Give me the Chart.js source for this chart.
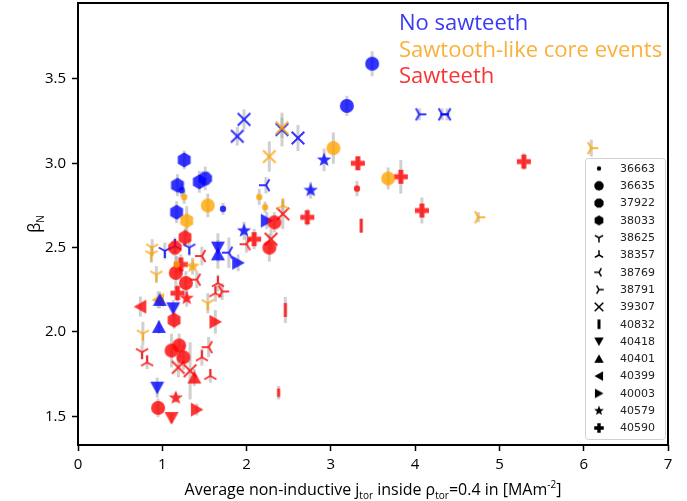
<!DOCTYPE html>
<html>
<head>
<meta charset="utf-8">
<script src="https://cdn.jsdelivr.net/npm/chart.js@4.4.0/dist/chart.umd.min.js"></script>
<style>
  html, body { margin: 0; padding: 0; background: #fff; }
</style>
</head>
<body>
<canvas id="myChart" width="687" height="501"></canvas>
<script>

// category of each point: 0 = no sawteeth, 1 = sawtooth-like core events, 2 = sawteeth
const catNames = ["No sawteeth", "Sawtooth-like core events", "Sawteeth"];
const catMarkerColors = ["rgba(0,0,255,0.8)", "rgba(255,165,0,0.8)", "rgba(255,0,0,0.8)"];
const catTextColors = ["#3a3af4", "#fbb03b", "#f93434"];

const xTicks = [0, 1, 2, 3, 4, 5, 6, 7];
const yTicks = [1.5, 2.0, 2.5, 3.0, 3.5];

// per shot: x = <j_tor> [MA/m2], y = beta_N, cat = category, err = beta_N error
const x36663 = [1.23, 1.26, 1.72, 2.15, 2.22, 3.31, 1.17];
const y36663 = [2.84, 2.80, 2.73, 2.80, 2.74, 2.85, 2.40];
const cat36663 = [0, 1, 0, 1, 1, 2, 1];
const err36663 = [0.04, 0.04, 0.035, 0.048, 0.033, 0.045, 0.05];

const x36635 = [3.49, 3.19, 3.03, 3.68, 1.54, 2.33, 2.27, 1.28, 1.11, 1.20, 1.25, 0.95, 1.16];
const y36635 = [3.59, 3.34, 3.09, 2.91, 2.75, 2.65, 2.50, 2.29, 1.89, 1.92, 1.85, 1.55, 2.35];
const cat36635 = [0, 0, 1, 1, 1, 2, 2, 2, 2, 2, 2, 2, 2];
const err36635 = [0.074, 0.06, 0.093, 0.065, 0.07, 0.06, 0.083, 0.07, 0.1, 0.07, 0.075, 0.055, 0.1];

const x37922 = [1.51, 1.15];
const y37922 = [2.91, 2.50];
const cat37922 = [0, 2];
const err37922 = [0.07, 0.05];

const x38033 = [1.26, 1.18, 1.17, 1.44, 1.29, 1.27, 1.14];
const y38033 = [3.02, 2.87, 2.71, 2.89, 2.66, 2.56, 2.07];
const cat38033 = [0, 0, 0, 0, 1, 2, 2];
const err38033 = [0.055, 0.065, 0.065, 0.065, 0.085, 0.055, 0.05];

const x38625 = [0.88, 0.87, 0.93, 1.54, 0.77, 1.03, 1.32, 0.76];
const y38625 = [2.50, 2.46, 2.34, 2.17, 1.99, 2.48, 2.50, 1.88];
const cat38625 = [1, 1, 1, 1, 1, 0, 0, 2];
const err38625 = [0.05, 0.05, 0.05, 0.06, 0.07, 0.05, 0.05, 0.04];

const x38357 = [1.15, 2.43, 0.82, 1.47, 1.57, 1.66, 1.63];
const y38357 = [2.51, 2.75, 1.82, 1.85, 1.74, 2.29, 2.23];
const cat38357 = [0, 1, 2, 2, 2, 2, 2];
const err38357 = [0.05, 0.03, 0.04, 0.05, 0.04, 0.05, 0.05];

const x38769 = [2.23, 1.79, 1.47, 1.41, 2.00, 1.55, 4.38];
const y38769 = [2.87, 2.47, 2.45, 2.31, 2.52, 1.91, 3.29];
const cat38769 = [0, 0, 2, 2, 2, 2, 0];
const err38769 = [0.048, 0.09, 0.055, 0.05, 0.05, 0.06, 0.035];

const x38791 = [4.75, 6.09, 4.05, 4.32, 1.71];
const y38791 = [2.68, 3.09, 3.29, 3.29, 2.24];
const cat38791 = [1, 1, 0, 0, 2];
const err38791 = [0.03, 0.05, 0.035, 0.035, 0.05];

const x39307 = [1.97, 1.89, 2.42, 2.61, 2.27, 2.42, 2.43, 2.29, 1.19, 1.33];
const y39307 = [3.26, 3.16, 3.20, 3.15, 3.04, 3.21, 2.70, 2.55, 1.79, 1.77];
const cat39307 = [0, 0, 0, 0, 1, 1, 2, 2, 2, 2];
const err39307 = [0.06, 0.055, 0.1, 0.077, 0.09, 0.06, 0.09, 0.06, 0.06, 0.17];

const x40832 = [3.36, 2.46, 2.38];
const y40832 = [2.63, 2.13, 1.64];
const cat40832 = [2, 2, 2];
const err40832 = [0.04, 0.077, 0.04];
const size40832 = [1, 1, 0.6];

const x40418 = [1.66, 1.13, 0.94, 1.11];
const y40418 = [2.50, 2.14, 1.67, 1.49];
const cat40418 = [0, 0, 0, 2];
const err40418 = [0.085, 0.05, 0.06, 0.03];

const x40401 = [1.66, 0.97, 0.96, 1.38];
const y40401 = [2.46, 2.19, 2.03, 1.73];
const cat40401 = [0, 0, 0, 2];
const err40401 = [0.085, 0.05, 0.04, 0.05];

const x40399 = [0.74, 0.95];
const y40399 = [2.15, 2.19];
const cat40399 = [2, 1];
const err40399 = [0.06, 0.05];

const x40003 = [2.24, 1.90, 1.63, 1.41];
const y40003 = [2.66, 2.41, 2.06, 1.54];
const cat40003 = [0, 0, 2, 2];
const err40003 = [0.05, 0.05, 0.07, 0.035];

const x40579 = [2.92, 2.76, 1.97, 1.36, 1.29, 1.16];
const y40579 = [3.02, 2.84, 2.60, 2.39, 2.20, 1.61];
const cat40579 = [0, 0, 0, 1, 2, 2];
const err40579 = [0.067, 0.05, 0.053, 0.05, 0.05, 0.03];

const x40590 = [3.32, 3.83, 2.72, 2.09, 4.08, 5.29, 1.22, 1.18];
const y40590 = [3.00, 2.92, 2.68, 2.55, 2.72, 3.01, 2.40, 2.23];
const cat40590 = [2, 2, 2, 2, 2, 2, 2, 2];
const err40590 = [0.04, 0.1, 0.05, 0.06, 0.077, 0.05, 0.06, 0.05];

const shots = [
  { id: "36663", marker: ".", x: x36663, y: y36663, cat: cat36663, err: err36663 },
  { id: "36635", marker: "o", x: x36635, y: y36635, cat: cat36635, err: err36635 },
  { id: "37922", marker: "8", x: x37922, y: y37922, cat: cat37922, err: err37922 },
  { id: "38033", marker: "h", x: x38033, y: y38033, cat: cat38033, err: err38033 },
  { id: "38625", marker: "1", x: x38625, y: y38625, cat: cat38625, err: err38625 },
  { id: "38357", marker: "2", x: x38357, y: y38357, cat: cat38357, err: err38357 },
  { id: "38769", marker: "3", x: x38769, y: y38769, cat: cat38769, err: err38769 },
  { id: "38791", marker: "4", x: x38791, y: y38791, cat: cat38791, err: err38791 },
  { id: "39307", marker: "x", x: x39307, y: y39307, cat: cat39307, err: err39307 },
  { id: "40832", marker: "|", x: x40832, y: y40832, cat: cat40832, err: err40832, size: size40832 },
  { id: "40418", marker: "v", x: x40418, y: y40418, cat: cat40418, err: err40418 },
  { id: "40401", marker: "^", x: x40401, y: y40401, cat: cat40401, err: err40401 },
  { id: "40399", marker: "<", x: x40399, y: y40399, cat: cat40399, err: err40399 },
  { id: "40003", marker: ">", x: x40003, y: y40003, cat: cat40003, err: err40003 },
  { id: "40579", marker: "*", x: x40579, y: y40579, cat: cat40579, err: err40579 },
  { id: "40590", marker: "P", x: x40590, y: y40590, cat: cat40590, err: err40590 }
];

// marker sprites, matplotlib-like shapes drawn once into small canvases
const markerCache = {};
function markerImage(m, color, k) {
  const key = m + "|" + color + "|" + k;
  if (markerCache[key]) return markerCache[key];
  const r = 7 * k;
  const size = 2 * Math.ceil(r + 3);
  const cv = document.createElement("canvas");
  cv.width = size;
  cv.height = size;
  const g = cv.getContext("2d");
  g.translate(size / 2, size / 2);
  g.fillStyle = color;
  g.strokeStyle = color;
  g.lineWidth = k < 1 ? 1.5 : 2;
  const D = Math.PI / 180;
  const poly = pts => {
    g.beginPath();
    pts.forEach((p, i) => i ? g.lineTo(p[0], p[1]) : g.moveTo(p[0], p[1]));
    g.closePath();
    g.fill();
  };
  const ngon = (n, rr, a0) => {
    const pts = [];
    for (let i = 0; i < n; i++) {
      const a = a0 + i * 2 * Math.PI / n;
      pts.push([rr * Math.cos(a), rr * Math.sin(a)]);
    }
    poly(pts);
  };
  const arms = angles => {
    g.beginPath();
    angles.forEach(a => { g.moveTo(0, 0); g.lineTo(r * Math.cos(a * D), r * Math.sin(a * D)); });
    g.stroke();
  };
  switch (m) {
    case ".": g.beginPath(); g.arc(0, 0, 3.2 * k, 0, 2 * Math.PI); g.fill(); break;
    case "o": g.beginPath(); g.arc(0, 0, r, 0, 2 * Math.PI); g.fill(); break;
    case "8": ngon(8, r * 1.04, 22.5 * D); break;
    case "h": ngon(6, r * 1.06, -90 * D); break;
    case "1": arms([90, 210, 330]); break;
    case "2": arms([270, 30, 150]); break;
    case "3": arms([180, 300, 60]); break;
    case "4": arms([0, 120, 240]); break;
    case "x": {
      const q = r * 0.9;
      g.beginPath();
      g.moveTo(-q, -q); g.lineTo(q, q);
      g.moveTo(q, -q); g.lineTo(-q, q);
      g.stroke();
      break;
    }
    case "|": g.fillRect(-1.5, -r, 3, 2 * r); break;
    case "v": poly([[-r, -r * 0.85], [r, -r * 0.85], [0, r * 0.95]]); break;
    case "^": poly([[-r, r * 0.85], [r, r * 0.85], [0, -r * 0.95]]); break;
    case "<": poly([[r * 0.85, -r], [r * 0.85, r], [-r * 0.95, 0]]); break;
    case ">": poly([[-r * 0.85, -r], [-r * 0.85, r], [r * 0.95, 0]]); break;
    case "*": {
      const pts = [];
      for (let i = 0; i < 10; i++) {
        const rr = i % 2 ? r * 0.45 : r * 1.08;
        const a = -90 * D + i * 36 * D;
        pts.push([rr * Math.cos(a), rr * Math.sin(a)]);
      }
      poly(pts);
      break;
    }
    case "P": {
      const t = r * 0.36;
      poly([[-t, -r], [t, -r], [t, -t], [r, -t], [r, t], [t, t], [t, r], [-t, r], [-t, t], [-r, t], [-r, -t], [-t, -t]]);
      break;
    }
  }
  markerCache[key] = cv;
  return cv;
}

const datasets = shots.map(s => ({
  label: s.id,
  data: s.x.map((v, i) => ({ x: v, y: s.y[i] })),
  pointStyle: s.cat.map((c, i) => markerImage(s.marker, catMarkerColors[c], s.size ? s.size[i] : 1)),
  pointRadius: 7,
  showLine: false,
  errs: s.err
}));

// grey vertical error bars under the markers
const errorBars = {
  id: "errorBars",
  beforeDatasetsDraw(chart) {
    const ctx = chart.ctx;
    const xs = chart.scales.x, ys = chart.scales.y;
    ctx.save();
    ctx.strokeStyle = "rgba(170,170,170,0.55)";
    ctx.lineWidth = 3;
    chart.data.datasets.forEach(ds => {
      ds.data.forEach((p, i) => {
        const e = ds.errs[i];
        const px = xs.getPixelForValue(p.x);
        ctx.beginPath();
        ctx.moveTo(px, ys.getPixelForValue(p.y - e));
        ctx.lineTo(px, ys.getPixelForValue(p.y + e));
        ctx.stroke();
      });
    });
    ctx.restore();
  }
};

function drawRich(ctx, parts, x, baseline, align) {
  let w = 0;
  parts.forEach(p => { ctx.font = p.font; w += ctx.measureText(p.t).width; });
  let cx = align === "center" ? x - w / 2 : x;
  parts.forEach(p => {
    ctx.font = p.font;
    ctx.fillText(p.t, cx, baseline + (p.dy || 0));
    cx += ctx.measureText(p.t).width;
  });
}

const decorations = {
  id: "decorations",
  afterDraw(chart) {
    const ctx = chart.ctx;
    const a = chart.chartArea;
    ctx.save();

    // axes frame
    ctx.strokeStyle = "#000";
    ctx.lineWidth = 2;
    ctx.strokeRect(a.left, a.top, a.right - a.left, a.bottom - a.top);

    // category labels
    ctx.textAlign = "left";
    ctx.textBaseline = "alphabetic";
    ctx.font = "22px 'Open Sans'";
    catNames.forEach((n, i) => {
      ctx.fillStyle = catTextColors[i];
      ctx.fillText(n, 399, 30 + i * 26.5);
    });

    // axis titles
    ctx.fillStyle = "#000";
    const big = "16px 'Open Sans'", sub = "10px 'Open Sans'";
    drawRich(ctx, [
      { t: "Average non-inductive j", font: big },
      { t: "tor", font: sub, dy: 4 },
      { t: " inside \u03c1", font: big },
      { t: "tor", font: sub, dy: 4 },
      { t: "=0.4 in [MAm", font: big },
      { t: "-2", font: sub, dy: -7 },
      { t: "]", font: big }
    ], (a.left + a.right) / 2, 495, "center");

    ctx.save();
    ctx.translate(40, (a.top + a.bottom) / 2);
    ctx.rotate(-Math.PI / 2);
    drawRich(ctx, [
      { t: "\u03b2", font: "16px 'Open Sans'" },
      { t: "N", font: "10px 'Open Sans'", dy: 4 }
    ], 0, 0, "center");
    ctx.restore();

    // shot legend
    const lx = 585, ly = 158, lw = 80, lh = 281;
    ctx.fillStyle = "rgba(255,255,255,0.8)";
    ctx.strokeStyle = "#d0d0d0";
    ctx.lineWidth = 1;
    ctx.beginPath();
    ctx.roundRect(lx + 0.5, ly + 0.5, lw, lh, 3);
    ctx.fill();
    ctx.stroke();
    ctx.font = "11px 'DejaVu Sans'";
    ctx.textBaseline = "middle";
    ctx.fillStyle = "#222";
    shots.forEach((s, i) => {
      const cy = 168.5 + i * 17.3;
      const img = markerImage(s.marker, "#000", 0.68);
      ctx.drawImage(img, 599 - img.width / 2, cy - img.height / 2);
      ctx.fillText(s.id, 620, cy + 0.5);
    });

    ctx.restore();
  }
};

const tickFont = { family: "'Open Sans'", size: 15 };

const config = {
  type: "scatter",
  data: { datasets: datasets },
  options: {
    responsive: false,
    animation: false,
    devicePixelRatio: 1,
    events: [],
    layout: { autoPadding: false, padding: { top: 3, right: 19, left: 0, bottom: 0 } },
    plugins: { legend: { display: false }, tooltip: { enabled: false } },
    scales: {
      x: {
        type: "linear",
        min: 0,
        max: 7,
        afterBuildTicks: s => { s.ticks = xTicks.map(v => ({ value: v })); },
        afterFit: s => {
          s.height = 56;
          s.paddingLeft = 0; s.paddingRight = 0;
        },
        ticks: { color: "#000", font: tickFont, padding: 5, maxRotation: 0, callback: v => String(v) },
        grid: { display: true, drawOnChartArea: false, drawTicks: true, tickLength: 6, tickWidth: 1.5, tickColor: "#000" },
        border: { display: false }
      },
      y: {
        type: "linear",
        min: 1.33,
        max: 3.95,
        afterBuildTicks: s => { s.ticks = yTicks.map(v => ({ value: v })); },
        afterFit: s => {
          s.width = 78;
          s.paddingTop = 0; s.paddingBottom = 0;
        },
        ticks: { color: "#000", font: tickFont, padding: 6, callback: v => v.toFixed(1) },
        grid: { display: true, drawOnChartArea: false, drawTicks: true, tickLength: 6, tickWidth: 1.5, tickColor: "#000" },
        border: { display: false }
      }
    }
  },
  plugins: [errorBars, decorations]
};

const myChart = new Chart(document.getElementById("myChart"), config);
</script>
</body>
</html>
